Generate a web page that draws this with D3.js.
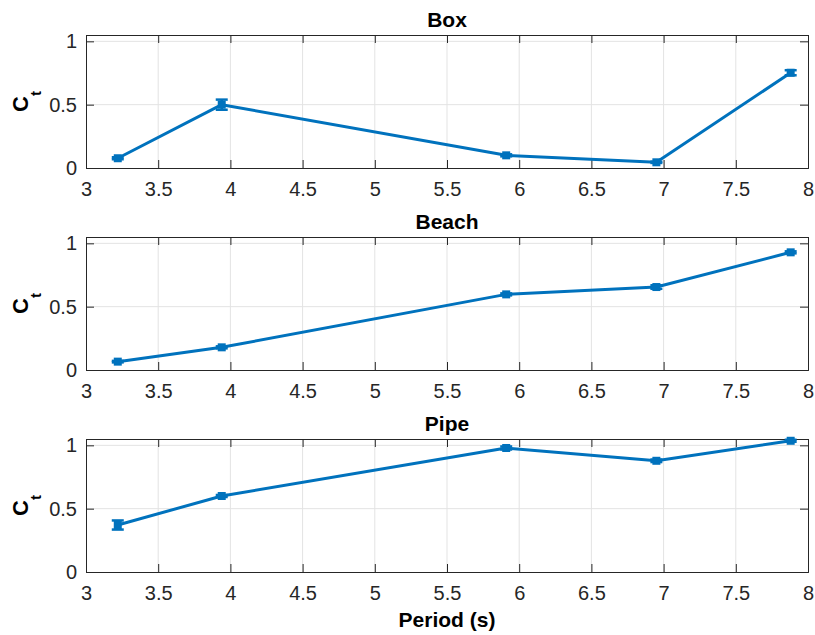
<!DOCTYPE html>
<html>
<head>
<meta charset="utf-8">
<script src="https://cdn.jsdelivr.net/npm/d3@7"></script>
<style>
  html, body { margin: 0; padding: 0; background: #fff; }
  svg { display: block; font-family: "Liberation Sans", Arial, Helvetica, sans-serif; }
</style>
</head>
<body>
<svg id="chart" width="815" height="635"></svg>
<script>
// Wave period (s) shared by all three panels
const periods = [3.22, 3.94, 5.91, 6.95, 7.88];

// Transmission coefficient and its error for each structure
const boxCt   = [0.077, 0.500, 0.100, 0.045, 0.752];
const boxErr  = [0.008, 0.040, 0.008, 0.005, 0.020];
const beachCt  = [0.066, 0.179, 0.597, 0.655, 0.929];
const beachErr = [0.006, 0.008, 0.008, 0.014, 0.008];
const pipeCt  = [0.371, 0.600, 0.979, 0.878, 1.036];
const pipeErr = [0.036, 0.008, 0.012, 0.010, 0.008];

const panelTitles = ["Box", "Beach", "Pipe"];
const xTicks = [3, 3.5, 4, 4.5, 5, 5.5, 6, 6.5, 7, 7.5, 8];
const yTicks = [0, 0.5, 1];

const panels = [
  { title: panelTitles[0], ct: boxCt, err: boxErr },
  { title: panelTitles[1], ct: beachCt, err: beachErr },
  { title: panelTitles[2], ct: pipeCt, err: pipeErr }
];

const svg = d3.select("#chart");
const left = 86, right = 808;
const panelTops = [35, 237, 439];
const panelH = 133;
const blue = "#0072BD";
const axisCol = "#262626";
const gridCol = "#e3e3e3";
const tickLen = 8;

const x = d3.scaleLinear().domain([3, 8]).range([left, right]);

panels.forEach((p, i) => {
  const top = panelTops[i], bottom = top + panelH;
  const y = d3.scaleLinear().domain([0, 1.05]).range([bottom, top]);
  const g = svg.append("g");

  // grid
  g.selectAll(".gx").data(xTicks.slice(1, -1)).join("line")
    .attr("x1", d => x(d)).attr("x2", d => x(d))
    .attr("y1", top).attr("y2", bottom)
    .attr("stroke", gridCol).attr("stroke-width", 1);
  g.selectAll(".gy").data(yTicks.slice(1)).join("line")
    .attr("x1", left).attr("x2", right)
    .attr("y1", d => y(d)).attr("y2", d => y(d))
    .attr("stroke", gridCol).attr("stroke-width", 1);

  // axes with inward ticks, mirrored on all four sides
  const xb = d3.axisBottom(x).tickValues(xTicks).tickSize(-tickLen).tickPadding(14)
    .tickFormat(d3.format("~g"));
  const xt = d3.axisTop(x).tickValues(xTicks).tickSize(-tickLen).tickFormat("");
  const yl = d3.axisLeft(y).tickValues(yTicks).tickSize(-tickLen).tickPadding(9)
    .tickFormat(d3.format("~g"));
  const yr = d3.axisRight(y).tickValues(yTicks).tickSize(-tickLen).tickFormat("");

  const axes = [
    g.append("g").attr("transform", `translate(0,${bottom})`).call(xb),
    g.append("g").attr("transform", `translate(0,${top})`).call(xt),
    g.append("g").attr("transform", `translate(${left},0)`).call(yl),
    g.append("g").attr("transform", `translate(${right},0)`).call(yr)
  ];
  axes.forEach(a => {
    a.attr("font-size", null).attr("font-family", null);
    a.select(".domain").attr("stroke", axisCol).attr("stroke-width", 1);
    a.selectAll(".tick line").attr("stroke", axisCol).attr("stroke-width", 1);
    a.selectAll(".tick text").attr("fill", axisCol).style("font-size", "20px")
      .style("font-family", "'Liberation Sans', Arial, sans-serif");
  });
  axes[0].selectAll(".tick text").attr("dy", "0.71em").attr("y", 14);

  // title
  svg.append("text")
    .attr("x", (left + right) / 2).attr("y", top - 8)
    .attr("text-anchor", "middle")
    .style("font-size", "21px").attr("font-weight", "bold").attr("fill", "#000")
    .text(p.title);

  // y label C_t
  const yl2 = svg.append("text")
    .attr("transform", `translate(28,${(top + bottom) / 2}) rotate(-90)`)
    .attr("text-anchor", "middle")
    .style("font-size", "22px").attr("font-weight", "bold").attr("fill", "#000");
  yl2.append("tspan").text("C");
  yl2.append("tspan").style("font-size", "15px").attr("dy", 13).text("t");

  const pts = periods.map((t, k) => ({ t, v: p.ct[k], e: p.err[k] }));

  // connecting line
  g.append("path").datum(pts)
    .attr("d", d3.line().x(d => x(d.t)).y(d => y(d.v)))
    .attr("fill", "none").attr("stroke", blue).attr("stroke-width", 3)
    .attr("stroke-linejoin", "round");

  // error bars
  const cap = 6;
  const eb = g.selectAll(".eb").data(pts).join("g");
  eb.append("line")
    .attr("x1", d => x(d.t)).attr("x2", d => x(d.t))
    .attr("y1", d => y(d.v - d.e)).attr("y2", d => y(d.v + d.e))
    .attr("stroke", blue).attr("stroke-width", 2.5);
  [-1, 1].forEach(s => {
    eb.append("line")
      .attr("x1", d => x(d.t) - cap).attr("x2", d => x(d.t) + cap)
      .attr("y1", d => y(d.v + s * d.e)).attr("y2", d => y(d.v + s * d.e))
      .attr("stroke", blue).attr("stroke-width", 2.5);
  });

  // square markers
  const m = 8;
  g.selectAll(".mk").data(pts).join("rect")
    .attr("x", d => x(d.t) - m / 2).attr("y", d => y(d.v) - m / 2)
    .attr("width", m).attr("height", m)
    .attr("fill", blue);
});

// shared x label
svg.append("text")
  .attr("x", (left + right) / 2).attr("y", 627)
  .attr("text-anchor", "middle")
  .style("font-size", "21px").attr("font-weight", "bold").attr("fill", "#000")
  .text("Period (s)");
</script>
</body>
</html>
